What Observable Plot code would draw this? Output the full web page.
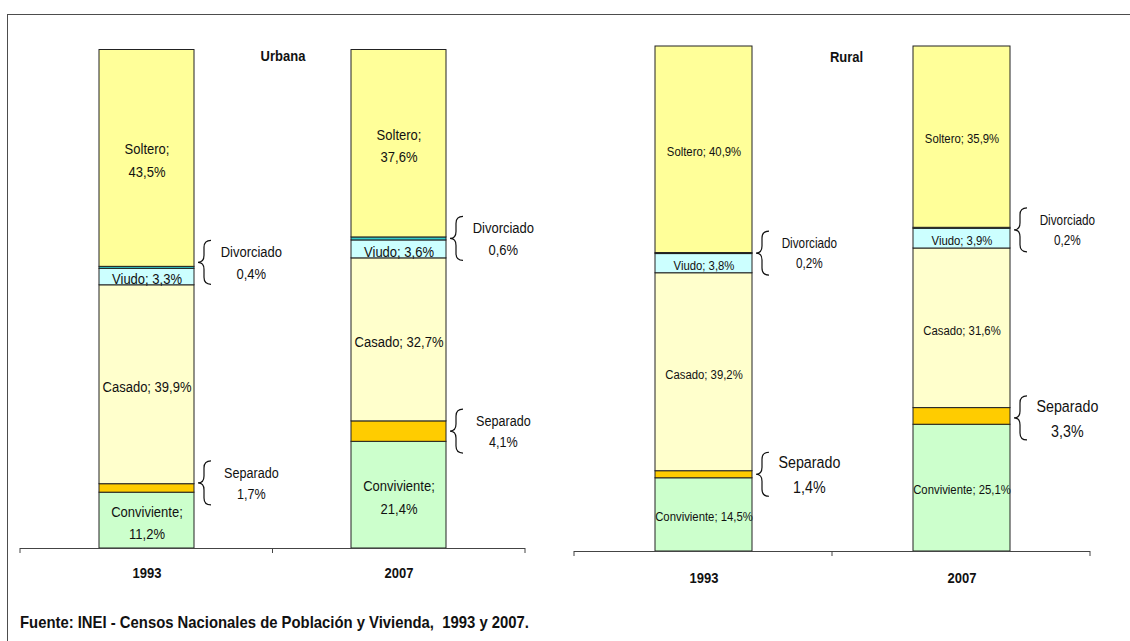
<!DOCTYPE html>
<html><head><meta charset="utf-8">
<script src="https://cdn.jsdelivr.net/npm/d3@7"></script>
<script src="https://cdn.jsdelivr.net/npm/@observablehq/plot@0.6"></script>
<style>
html,body{margin:0;padding:0;background:#fff;}
#root{position:relative;width:1130px;height:641px;overflow:hidden;font-family:"Liberation Sans Narrow","Arial Narrow","Liberation Sans",sans-serif;background:#fff;}
#frame{position:absolute;left:7px;top:14px;width:1200px;height:700px;border-top:1.5px solid #4d4d4d;border-left:1.5px solid #4d4d4d;}
.panel{position:absolute;top:0;}
#footer{position:absolute;left:20px;top:613px;font-weight:bold;font-size:16.5px;color:#111;white-space:pre;transform:scaleX(0.9);transform-origin:0 50%;}
</style></head>
<body><div id="root"><div id="frame"></div><div id="urbana" class="panel" style="left:0px"></div><div id="rural" class="panel" style="left:560px"></div><div id="footer"></div></div>
<script>
// ---- data ----
const categories = ["Conviviente", "Separado", "Casado", "Viudo", "Divorciado", "Soltero"];
const years = ["1993", "2007"];
const urbana1993 = [11.2, 1.7, 39.9, 3.3, 0.4, 43.5];
const urbana2007 = [21.4, 4.1, 32.7, 3.6, 0.6, 37.6];
const rural1993 = [14.5, 1.4, 39.2, 3.8, 0.2, 40.9];
const rural2007 = [25.1, 3.3, 31.6, 3.9, 0.2, 35.9];
const panelTitles = ["Urbana", "Rural"];
const insideLabelled = ["Conviviente", "Casado", "Viudo", "Soltero"];
const bracedLabelled = ["Separado", "Divorciado"];
const twoLineUrbana = ["Conviviente", "Soltero"];
const sourceNote = "Fuente: INEI - Censos Nacionales de Población y Vivienda,  1993 y 2007.";

// ---- styles ----
const FONT = '"Liberation Sans Narrow","Arial Narrow","Liberation Sans",sans-serif';
const NARROW = 0.84;
const colorRange = ["#CCFFCC", "#FFCC00", "#FFFFCC", "#CCFFFF", "#33CCCC", "#FFFF99"];

const fmt = v => v.toFixed(1).replace(".", ",") + "%";

function stackRows(byYear) {
  const rows = [];
  for (const year of years) {
    let acc = 0;
    byYear[year].forEach((v, i) => {
      rows.push({year, category: categories[i], value: v, y1: acc, y2: acc + v, mid: acc + v / 2});
      acc += v;
    });
  }
  return rows;
}

function braceMark(items, bwFallback, shift) {
  return (index, scales, values, dimensions) => {
    const ns = "http://www.w3.org/2000/svg";
    const g = document.createElementNS(ns, "g");
    const x = scales.x, y = scales.y;
    const bw = x.bandwidth ? x.bandwidth() : bwFallback;
    for (const d of items) {
      const x0 = x(d.year) + bw + 4, x1 = x0 + 6, x2 = x0 + 13;
      const yc = y(d.mid) + (shift[d.year] || 0), h = 22, r = 7;
      const p = document.createElementNS(ns, "path");
      p.setAttribute("d",
        `M${x2},${yc - h} Q${x1},${yc - h} ${x1},${yc - h + r} L${x1},${yc - r} Q${x1},${yc} ${x0},${yc} ` +
        `Q${x1},${yc} ${x1},${yc + r} L${x1},${yc + h - r} Q${x1},${yc + h} ${x2},${yc + h}`);
      p.setAttribute("fill", "none");
      p.setAttribute("stroke", "#111");
      p.setAttribute("stroke-width", "1.2");
      g.appendChild(p);
    }
    return g;
  };
}

function tickMark() {
  return (index, scales, values, dimensions) => {
    const ns = "http://www.w3.org/2000/svg";
    const g = document.createElementNS(ns, "g");
    const {width, height, marginLeft, marginRight, marginBottom} = dimensions;
    const yb = height - marginBottom;
    const xl = marginLeft, xr = width - marginRight;
    for (const xv of [xl, (xl + xr) / 2, xr]) {
      const l = document.createElementNS(ns, "line");
      l.setAttribute("x1", xv); l.setAttribute("x2", xv);
      l.setAttribute("y1", yb); l.setAttribute("y2", yb + 5);
      l.setAttribute("stroke", "#444");
      g.appendChild(l);
    }
    return g;
  };
}

// condense text horizontally (emulates Arial Narrow) without moving anchors
function narrowText(svg, s) {
  svg.querySelectorAll("text").forEach(t => {
    const tr = t.getAttribute("transform");
    if (tr) {
      t.setAttribute("transform", `${tr} scale(${s},1)`);
    } else {
      const x = +(t.getAttribute("x") || 0), y = +(t.getAttribute("y") || 0);
      t.removeAttribute("x"); t.removeAttribute("y");
      t.setAttribute("transform", `translate(${x},${y}) scale(${s},1)`);
    }
    const dx = t.getAttribute("dx");
    if (dx) t.setAttribute("dx", +dx / s);
  });
  return svg;
}

function panel(cfg) {
  const rows = stackRows(cfg.values);
  const inner = cfg.width - cfg.ml - cfg.mr;
  const step = inner / 2;
  const pi = 0.625;
  const bw = step * (1 - pi);
  const inside = rows.filter(d => insideLabelled.includes(d.category));
  const braced = rows.filter(d => bracedLabelled.includes(d.category));
  const insideText = d => (cfg.title === "Urbana" && twoLineUrbana.includes(d.category))
    ? `${d.category};\n${fmt(d.value)}` : `${d.category}; ${fmt(d.value)}`;
  const bracedLabels = years.map(yr => Plot.text(braced.filter(d => d.year === yr), {
    x: "year", y: "mid", dx: bw / 2 + 57, dy: -2 + (cfg.shift[yr] || 0),
    text: d => `${d.category}\n${fmt(d.value)}`,
    fontSize: d => cfg.bracedSize[d.category], lineHeight: 1.45, fill: "#111"}));
  const svg = Plot.plot({
    width: cfg.width, height: 600,
    marginLeft: cfg.ml, marginRight: cfg.mr, marginTop: cfg.mt, marginBottom: cfg.mb,
    x: {type: "band", domain: years, paddingInner: pi, paddingOuter: pi / 2, axis: null},
    y: {domain: [0, 100], axis: null},
    color: {domain: categories, range: colorRange},
    style: {fontFamily: FONT, fontSize: "14px", color: "#111", background: "transparent", overflow: "visible"},
    marks: [
      Plot.barY(rows, {x: "year", y1: "y1", y2: "y2", fill: "category", stroke: "#222", strokeWidth: 1, inset: 0}),
      Plot.ruleY([0], {stroke: "#444", strokeWidth: 1}),
      tickMark(),
      Plot.text(inside, {x: "year", y: "mid", text: insideText, fontSize: cfg.insideSize, lineHeight: 1.45, fill: "#111"}),
      braceMark(braced, bw, cfg.shift),
      ...bracedLabels,
      Plot.text(years, {x: d => d, frameAnchor: "bottom", lineAnchor: "middle", dy: cfg.yearDy, text: d => d, fontWeight: "bold", fontSize: 15.5, fill: "#111"}),
      Plot.text([cfg.title], {frameAnchor: "top", lineAnchor: "middle", dx: cfg.titleDx, dy: cfg.titleDy, text: d => d, fontWeight: "bold", fontSize: 15.5, fill: "#111"})
    ]
  });
  return narrowText(svg, NARROW);
}

document.getElementById("urbana").appendChild(panel({
  title: panelTitles[0], values: {"1993": urbana1993, "2007": urbana2007},
  width: 565, ml: 20, mr: 40, mt: 49.5, mb: 52,
  insideSize: 15.5, bracedSize: {Separado: 15, Divorciado: 15.5},
  yearDy: 25, titleDx: 10, titleDy: 6, shift: {"1993": -5, "2007": 0}
}));
document.getElementById("rural").appendChild(panel({
  title: panelTitles[1], values: {"1993": rural1993, "2007": rural2007},
  width: 570, ml: 14, mr: 40, mt: 46, mb: 49,
  insideSize: 13.5, bracedSize: {Separado: 17, Divorciado: 14},
  yearDy: 27, titleDx: 14, titleDy: 11, shift: {"1993": 0, "2007": 2}
}));
document.getElementById("footer").textContent = sourceNote;
</script>
</body></html>
